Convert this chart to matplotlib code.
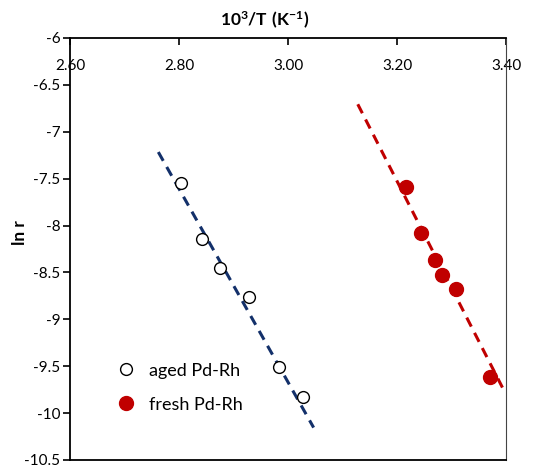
import numpy as np
import matplotlib.pyplot as plt

plt.rcParams['font.family'] = ['Lato', 'DejaVu Sans']
plt.rcParams['mathtext.fontset'] = 'custom'
plt.rcParams['mathtext.rm'] = 'Lato'
plt.rcParams['mathtext.bf'] = 'Lato:bold'

# aged Pd-Rh
aged_x = [2.803, 2.843, 2.876, 2.929, 2.983, 3.028]
aged_y = [-7.55, -8.14, -8.45, -8.76, -9.51, -9.83]

# fresh Pd-Rh
fresh_x = [3.216, 3.244, 3.270, 3.282, 3.309, 3.371]
fresh_y = [-7.59, -8.08, -8.37, -8.53, -8.68, -9.61]

# trendlines (slope, intercept) and x extents
aged_fit = (-10.31, 21.26)
fresh_fit = (-11.38, 28.89)
aged_fit_x = [2.762, 3.047]
fresh_fit_x = [3.128, 3.394]

navy = '#13306a'
red = '#c00000'

fig = plt.figure(figsize=(5.39, 4.65), dpi=100)
ax = fig.add_axes([0.1299, 0.0108, 0.8089, 0.9075])

xa = np.array(aged_fit_x)
xf = np.array(fresh_fit_x)
ax.plot(xa, np.polyval(aged_fit, xa), '--', color=navy, lw=2.2, dashes=(3.3, 2.3), zorder=2)
ax.plot(xf, np.polyval(fresh_fit, xf), '--', color=red, lw=2.2, dashes=(3.3, 2.3), zorder=2)

ax.plot(aged_x, aged_y, 'o', ms=8.5, mfc='white', mec='black', mew=1.0,
        ls='none', label='aged Pd-Rh', zorder=3)
ax.plot(fresh_x, fresh_y, 'o', ms=10, mfc=red, mec=red,
        ls='none', label='fresh Pd-Rh', zorder=3)

ax.set_xlim(2.6, 3.4)
ax.set_ylim(-10.5, -6)
ax.set_xticks([2.6, 2.8, 3.0, 3.2, 3.4])
ax.set_xticklabels(['2.60', '2.80', '3.00', '3.20', '3.40'])
ax.set_yticks(np.arange(-10.5, -5.9, 0.5))
ax.set_yticklabels(['-10.5', '-10', '-9.5', '-9', '-8.5', '-8', '-7.5', '-7', '-6.5', '-6'])

ax.tick_params(axis='x', top=True, bottom=False, labeltop=True, labelbottom=False,
               direction='in', length=5, width=1.2, pad=-25, labelsize=11)
ax.tick_params(axis='y', direction='out', length=5, width=1.2, labelsize=11, pad=2)

for side in ['left', 'top', 'bottom']:
    ax.spines[side].set_linewidth(1.3)
ax.spines['right'].set_linewidth(0.8)
ax.spines['right'].set_color('#444444')

fig.text(0.492, 0.957, r'$\mathbf{10^{3}/T\ (K^{-1})}$', ha='center', va='center',
         fontsize=12.5)
fig.text(0.037, 0.5, 'ln r', rotation=90, ha='center', va='center',
         fontsize=12.5, fontweight='bold')

ax.legend(loc='lower left', bbox_to_anchor=(0.07, 0.095), frameon=False, fontsize=13,
          handletextpad=0.3, labelspacing=1.0, borderaxespad=0)

fig.savefig('out.png', dpi=100)
